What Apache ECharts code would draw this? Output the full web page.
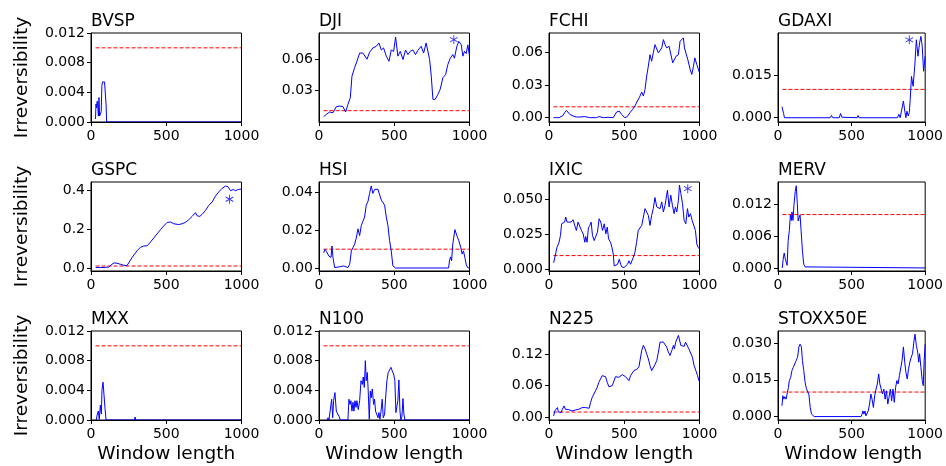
<!DOCTYPE html>
<html>
<head>
<meta charset="utf-8">
<script src="https://cdn.jsdelivr.net/npm/echarts@6/dist/echarts.min.js"></script>
<style>
html,body{margin:0;padding:0;background:#fff;}
#chart{width:946px;height:466px;}
</style>
</head>
<body>
<div id="chart"></div>
<script>
// Irreversibility metric versus window length for twelve stock indices.
const indexNames = ['BVSP','DJI','FCHI','GDAXI','GSPC','HSI','IXIC','MERV','MXX','N100','N225','STOXX50E'];
const windowTicks = [0, 500, 1000];
const threshold = 0.01;
const thresholdSpan = [30, 1000];

const bvsp = [[30,0.0004],[33,0.0024],[37,0.0019],[41,0.0028],[45,0.0021],[49,0.0008],[53,0.0033],[57,0.0008],[64,0.0008],[68,0.0014],[72,0.0048],[76,0.0054],[80,0.0052],[84,0.0055],[90,0.0054],[95,0.0052],[100,0.0024],[104,0],[1000,0]];

const dji = [[31,0.0042],[49,0.0065],[71,0.0087],[93,0.008],[115,0.0139],[137,0.0145],[159,0.014],[177,0.0087],[192,0.016],[208,0.0226],[219,0.0435],[237,0.052],[252,0.058],[270,0.066],[292,0.066],[319,0.060],[336,0.0668],[358,0.071],[381,0.0726],[398,0.0758],[414,0.069],[429,0.071],[447,0.063],[465,0.058],[480,0.069],[496,0.0677],[509,0.0816],[524,0.063],[540,0.0677],[558,0.0597],[575,0.069],[591,0.0645],[606,0.0677],[624,0.069],[641,0.0645],[657,0.0687],[679,0.0726],[695,0.066],[712,0.0758],[723,0.074],[735,0.0597],[746,0.0435],[757,0.021],[772,0.021],[790,0.0258],[805,0.0306],[823,0.042],[841,0.045],[856,0.0548],[872,0.061],[889,0.0645],[900,0.061],[916,0.0726],[929,0.0774],[945,0.074],[956,0.063],[967,0.0677],[978,0.0655],[989,0.074],[1000,0.063]];

const fchi = [[31,0],[49,0],[67,0],[78,0.0015],[93,0.002],[104,0.0046],[116,0.0067],[127,0.0052],[138,0.003],[149,0.0046],[160,0.0015],[182,0.0006],[204,0.0006],[238,0.001],[271,0],[316,0],[333,0.001],[360,0],[393,0.0003],[427,0],[438,0.0015],[449,0.0052],[467,0.006],[482,0.003],[493,0.0015],[504,0],[520,0.001],[538,0.0046],[556,0.0077],[571,0.0107],[587,0.0153],[600,0.0184],[616,0.0236],[627,0.0199],[638,0.026],[649,0.0383],[660,0.0474],[671,0.058],[682,0.052],[693,0.0597],[704,0.0673],[716,0.0689],[727,0.0597],[738,0.058],[749,0.0643],[760,0.0719],[771,0.0673],[782,0.0643],[798,0.0658],[809,0.0643],[822,0.0505],[833,0.0505],[844,0.0566],[860,0.058],[871,0.0704],[882,0.0704],[893,0.0735],[900,0.0643],[911,0.0627],[922,0.0536],[938,0.0444],[949,0.0398],[960,0.0474],[969,0.0551],[982,0.049],[993,0.0474],[1000,0.0413]];

const gdaxi = [[27,0.0039],[38,0.0015],[44,0],[354,0],[363,0.0008],[372,0],[416,0],[425,0.0015],[434,0.0002],[440,0],[538,0],[544,0.0008],[551,0],[812,0],[821,0.0012],[830,0],[841,0.0004],[852,0.0059],[863,0.0018],[869,0],[876,0.0023],[885,0.0006],[892,0.0018],[898,0.0064],[907,0.0146],[918,0.0111],[929,0.0182],[940,0.0275],[951,0.0217],[962,0.0264],[971,0.0287],[980,0.0252],[989,0.0164],[1000,0.0217]];

const gspc = [[31,0.002],[62,0.002],[95,0.003],[118,0.005],[140,0.019],[155,0.026],[173,0.024],[195,0.019],[217,0.014],[239,0.012],[251,0.019],[273,0.054],[306,0.088],[328,0.106],[350,0.113],[373,0.114],[395,0.133],[417,0.154],[439,0.175],[461,0.196],[483,0.216],[506,0.234],[528,0.236],[550,0.227],[583,0.223],[605,0.227],[627,0.234],[650,0.248],[672,0.265],[694,0.284],[705,0.268],[723,0.265],[738,0.275],[761,0.296],[783,0.322],[805,0.339],[827,0.369],[849,0.391],[871,0.409],[894,0.421],[911,0.417],[927,0.397],[945,0.403],[960,0.397],[978,0.403],[1000,0.405]];

const hsi = [[31,0.0081],[40,0.0099],[49,0.0088],[60,0.0091],[66,0.0063],[73,0.007],[80,0.0056],[86,0.0117],[93,0.0056],[104,0.0002],[115,0.0011],[126,0.0005],[142,0.0007],[155,0.0002],[164,0.0011],[177,0.0002],[192,0.0002],[204,0.002],[215,0.0091],[226,0.0109],[237,0.0127],[248,0.016],[259,0.0208],[270,0.0172],[281,0.0226],[292,0.0217],[303,0.0271],[314,0.0334],[325,0.0352],[336,0.0396],[347,0.0436],[358,0.0396],[370,0.0418],[381,0.0411],[392,0.0418],[403,0.0414],[414,0.0361],[425,0.0352],[436,0.0334],[447,0.0271],[458,0.0226],[469,0.0145],[480,0.0091],[491,0.0011],[502,0.002],[509,0],[861,0],[867,0.0038],[874,0.0059],[881,0.0038],[889,0.0127],[903,0.0204],[916,0.0172],[929,0.0145],[942,0.0109],[951,0.0074],[960,0.0091],[969,0.0056],[978,0.002],[987,0.0002],[1000,0]];

const ixic = [[31,0.0048],[44,0.0043],[53,0.0159],[67,0.0195],[76,0.0243],[84,0.0327],[93,0.0315],[104,0.0339],[111,0.0375],[120,0.0339],[133,0.0351],[147,0.0339],[160,0.0356],[171,0.0315],[182,0.0279],[193,0.0339],[204,0.0327],[216,0.0279],[227,0.0255],[238,0.0195],[244,0.0236],[253,0.0195],[262,0.0298],[271,0.0315],[280,0.0339],[289,0.0243],[300,0.0207],[311,0.0219],[322,0.0267],[333,0.0363],[344,0.0339],[356,0.0279],[367,0.0327],[378,0.0255],[387,0.0303],[396,0.0219],[409,0.0195],[418,0.0159],[427,0.0111],[433,0.0026],[444,0.0026],[456,0.0038],[467,0.0075],[476,0.0038],[484,0.0019],[498,0.0014],[511,0.0019],[522,0.0038],[531,0.0063],[542,0.0038],[551,0.005],[560,0.0087],[571,0.0123],[582,0.0195],[593,0.0279],[604,0.0291],[616,0.0315],[627,0.0375],[638,0.0435],[649,0.0411],[660,0.0387],[671,0.0315],[682,0.0387],[693,0.0435],[704,0.0514],[716,0.0447],[727,0.0452],[738,0.0435],[749,0.0483],[760,0.0411],[771,0.0459],[787,0.0567],[798,0.0447],[809,0.0531],[820,0.0459],[831,0.0399],[840,0.0447],[849,0.0411],[860,0.0495],[867,0.0603],[876,0.0543],[887,0.0471],[898,0.0351],[909,0.0327],[920,0.0435],[929,0.0375],[940,0.0399],[951,0.0351],[964,0.0339],[973,0.0279],[982,0.0183],[991,0.0159],[1000,0.0147]];

const merv = [[29,0],[35,0.0016],[42,0.0028],[49,0.0018],[55,0.002],[62,0.0005],[69,0.0051],[77,0.007],[84,0.0099],[91,0.0089],[95,0.0105],[102,0.0089],[108,0.0117],[117,0.0143],[124,0.0154],[131,0.0121],[137,0.0088],[144,0.0095],[150,0.0099],[157,0.007],[166,0.0032],[175,0.0007],[184,0.0002],[192,0],[1000,0]];

const mxx = [[35,0],[42,0.0008],[49,0.0012],[55,0.0001],[62,0.002],[69,0.0008],[73,0.0041],[80,0.0051],[86,0.0035],[93,0.0016],[100,0],[288,0],[293,0.0004],[297,0],[1000,0]];

const n100 = [[53,0],[60,0.0003],[66,0],[77,0],[84,0.0028],[91,0.0003],[97,0.0026],[106,0.0037],[115,0.0012],[124,0.001],[133,0.0005],[142,0],[192,0],[199,0.0028],[206,0.0021],[212,0.0026],[219,0.0012],[226,0.0024],[232,0.0012],[239,0.0026],[246,0.0017],[252,0.0026],[261,0.0014],[270,0.0026],[279,0.0053],[288,0.0048],[294,0.0058],[301,0.0044],[308,0.008],[314,0.0053],[321,0.0064],[327,0.0039],[334,0.0001],[341,0.0039],[347,0.003],[354,0.0042],[363,0.0021],[369,0.0028],[376,0.0012],[383,0.0008],[392,0.0003],[398,0.001],[405,0.0001],[412,0.0012],[420,0.0028],[427,0.0003],[436,0.0008],[442,0.0028],[451,0.0053],[460,0.0064],[469,0.0066],[478,0.0071],[487,0.0066],[496,0.0062],[504,0.0053],[511,0.001],[524,0.0026],[531,0.0054],[538,0.0012],[544,0],[551,0.0005],[558,0.0029],[564,0.0008],[571,0],[1000,0]];

const n225 = [[31,0.0026],[38,0.012],[49,0.0153],[56,0.0185],[62,0.0102],[71,0.012],[80,0.009],[89,0.0153],[100,0.0217],[109,0.0153],[120,0.0153],[131,0.0147],[142,0.0172],[153,0.012],[164,0.0153],[176,0.014],[187,0.0172],[198,0.0153],[209,0.0172],[220,0.0185],[231,0.021],[244,0.0185],[256,0.0198],[267,0.0172],[276,0.028],[287,0.0377],[298,0.0408],[309,0.0504],[320,0.0568],[331,0.0664],[342,0.0696],[353,0.0791],[364,0.0823],[376,0.0772],[387,0.0664],[398,0.0581],[409,0.06],[420,0.06],[431,0.0632],[442,0.0772],[453,0.0791],[464,0.076],[476,0.0772],[487,0.081],[498,0.0791],[509,0.0772],[520,0.0791],[531,0.0696],[542,0.0791],[553,0.0823],[564,0.0887],[576,0.0855],[587,0.0919],[598,0.0964],[609,0.0932],[616,0.127],[627,0.1366],[638,0.1302],[649,0.1206],[660,0.111],[671,0.0983],[682,0.0887],[693,0.0919],[704,0.1002],[716,0.1078],[727,0.1238],[738,0.1429],[749,0.1461],[760,0.1429],[771,0.1398],[782,0.1334],[793,0.1238],[804,0.1174],[816,0.127],[827,0.1366],[833,0.1302],[842,0.1429],[849,0.1398],[860,0.1557],[867,0.1589],[876,0.1366],[887,0.1366],[898,0.1347],[907,0.1429],[920,0.141],[929,0.1302],[942,0.127],[953,0.1142],[964,0.0983],[976,0.0887],[987,0.0791],[996,0.0696],[1000,0.0708]];

const stoxx50e = [[27,0.0044],[33,0.0085],[40,0.0071],[46,0.0081],[55,0.0071],[64,0.0099],[71,0.0119],[77,0.0147],[86,0.016],[95,0.0188],[104,0.0201],[115,0.0201],[124,0.0229],[133,0.0242],[142,0.0284],[150,0.0295],[159,0.0284],[166,0.0229],[175,0.0188],[184,0.014],[192,0.0116],[201,0.0123],[210,0.0089],[219,0.0037],[228,0.001],[237,0.0003],[246,0],[564,0],[571,0.001],[577,0.0023],[584,0.001],[591,0.0023],[597,0.0003],[606,0.0003],[613,0.0023],[622,0.0051],[631,0.0092],[639,0.0071],[648,0.0037],[657,0.0085],[666,0.0112],[675,0.0133],[684,0.0174],[692,0.0133],[701,0.014],[710,0.0092],[719,0.0112],[728,0.0071],[737,0.0105],[746,0.0051],[754,0.0078],[763,0.0112],[772,0.0064],[781,0.0112],[790,0.0058],[799,0.0119],[808,0.0147],[816,0.0133],[825,0.0167],[834,0.0174],[843,0.0229],[852,0.0284],[861,0.0222],[869,0.0181],[878,0.0153],[887,0.0195],[896,0.0222],[905,0.0242],[914,0.0256],[923,0.0304],[931,0.0336],[940,0.029],[949,0.0263],[956,0.0222],[962,0.0256],[971,0.0201],[980,0.0147],[987,0.0126],[993,0.0229],[1000,0.0295]];

const seriesValues = [bvsp, dji, fchi, gdaxi, gspc, hsi, ixic, merv, mxx, n100, n225, stoxx50e];

// y-axis limits and tick labels per index
const yLimits = [[0,0.012],[-0.001,0.0855],[-0.004,0.078],[-0.0015,0.0299],[-0.0156,0.4416],[-0.0016,0.0457],[-0.001,0.0625],[-0.00057,0.0161],[0,0.012],[0,0.012],[-0.0051,0.164],[-0.0014,0.0349]];
const yTickValues = [[0,0.004,0.008,0.012],[0.03,0.06],[0,0.03,0.06],[0,0.015],[0,0.2,0.4],[0,0.02,0.04],[0,0.025,0.05],[0,0.006,0.012],[0,0.004,0.008,0.012],[0,0.004,0.008,0.012],[0,0.06,0.12],[0,0.015,0.03]];
const yTickDecimals = [3,2,2,3,1,2,3,3,3,3,2,3];

// asterisk markers flagging selected windows
const starMarks = {DJI:[896,0.079], GDAXI:[892,0.0275], GSPC:[920,0.353], IXIC:[922,0.0577]};

// layout
const colLeft = [91, 319, 549, 778];
const rowTop = [33, 182, 331];
const plotW = 150.5, plotH = 89;
const FONT = 'DejaVu Sans';

const asteriskPath = 'path://M-0.1,-1L0.1,-1L0.1,1L-0.1,1Z' +
  'M0.816,0.587L-0.916,-0.413L-0.816,-0.587L0.916,0.413Z' +
  'M0.916,-0.413L-0.816,0.587L-0.916,0.413L0.816,-0.587Z';

const grids = [], xAxes = [], yAxes = [], series = [], titles = [], graphics = [];

indexNames.forEach((name, i) => {
  const r = Math.floor(i / 4), c = i % 4;
  grids.push({left: colLeft[c], top: rowTop[r], width: plotW, height: plotH,
    show: true, borderColor: '#000', borderWidth: 1, containLabel: false});
  titles.push({text: name, left: colLeft[c], top: rowTop[r] - 20, padding: 0,
    textStyle: {fontFamily: FONT, fontSize: 17, fontWeight: 'normal', color: '#000'}});
  xAxes.push({type: 'value', gridIndex: i, min: windowTicks[0], max: windowTicks[windowTicks.length-1],
    interval: 500, z: 3,
    axisLine: {show: true, onZero: false, lineStyle: {color: '#000', width: 1}},
    axisTick: {show: true, inside: false, length: 4, lineStyle: {color: '#000'}},
    axisLabel: {show: true, margin: 7, fontFamily: FONT, fontSize: 14, color: '#000',
      showMinLabel: true, showMaxLabel: true, formatter: v => String(v)},
    splitLine: {show: false}});
  const dec = yTickDecimals[i];
  yAxes.push({type: 'value', gridIndex: i, min: yLimits[i][0], max: yLimits[i][1], z: 3,
    axisLine: {show: true, onZero: false, lineStyle: {color: '#000', width: 1}},
    axisTick: {show: true, inside: false, length: 4, customValues: yTickValues[i], lineStyle: {color: '#000'}},
    axisLabel: {show: true, margin: 6, fontFamily: FONT, fontSize: 14, color: '#000',
      customValues: yTickValues[i], formatter: v => Number(v).toFixed(dec)},
    splitLine: {show: false}});
  series.push({type: 'line', xAxisIndex: i, yAxisIndex: i, data: seriesValues[i],
    showSymbol: false, symbol: 'none', clip: true, z: 2,
    lineStyle: {color: '#0000ff', width: 1}});
  series.push({type: 'line', xAxisIndex: i, yAxisIndex: i,
    data: thresholdSpan.map(x => [x, threshold]), showSymbol: false, symbol: 'none', z: 1,
    lineStyle: {color: '#ff0000', width: 1, type: [4, 2]}});
  if (starMarks[name]) {
    series.push({type: 'scatter', xAxisIndex: i, yAxisIndex: i, data: [starMarks[name]],
      symbol: asteriskPath, symbolSize: [8, 9], z: 4,
      itemStyle: {color: '#0000ff'}});
  }
});

// shared axis titles
rowTop.forEach(t => {
  graphics.push({type: 'text', x: 22, y: t + plotH / 2, rotation: Math.PI / 2,
    style: {text: 'Irreversibility', fontFamily: FONT, fontSize: 18.5, fill: '#000',
      align: 'center', verticalAlign: 'middle'}});
});
colLeft.forEach(l => {
  graphics.push({type: 'text', x: l + plotW / 2, y: 454,
    style: {text: 'Window length', fontFamily: FONT, fontSize: 18.5, fill: '#000',
      align: 'center', verticalAlign: 'middle'}});
});

const chart = echarts.init(document.getElementById('chart'), null, {renderer: 'canvas'});
chart.setOption({
  animation: false,
  backgroundColor: '#fff',
  title: titles,
  grid: grids,
  xAxis: xAxes,
  yAxis: yAxes,
  series: series,
  graphic: graphics
});
</script>
</body>
</html>
